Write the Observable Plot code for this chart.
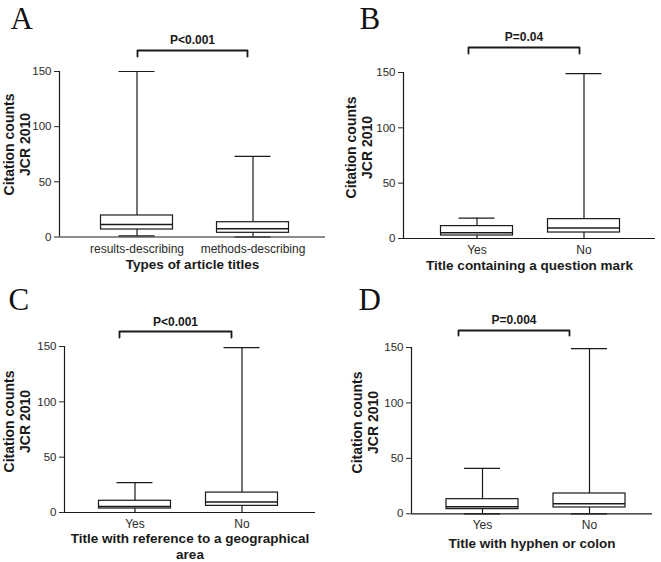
<!DOCTYPE html>
<html><head><meta charset="utf-8">
<script src="https://cdn.jsdelivr.net/npm/d3@7"></script>
<script src="https://cdn.jsdelivr.net/npm/@observablehq/plot@0.6"></script>
<style>
html,body{margin:0;padding:0;background:#fff}
#root{position:relative;width:661px;height:562px;overflow:hidden;background:#fff}
#root svg{position:absolute}
</style>
</head><body><div id="root"></div>
<script>
// ---------- data ----------
const letters = ["A", "B", "C", "D"];
const xTitles = [
  "Types of article titles",
  "Title containing a question mark",
  "Title with reference to a geographical\narea",
  "Title with hyphen or colon"
];
const yLabelLines = ["Citation counts", "JCR 2010"];
const yTicks = [0, 50, 100, 150];
const pValues = ["P<0.001", "P=0.04", "P<0.001", "P=0.004"];

const groupsA = ["results-describing", "methods-describing"];
const groupsB = ["Yes", "No"];
const groupsC = ["Yes", "No"];
const groupsD = ["Yes", "No"];

const minA = [1, 0],  q1A = [6.8, 3.8], medA = [11.3, 7.4], q3A = [19.5, 13.4], maxA = [150, 73];
const minB = [0, 0],  q1B = [2.7, 5.4], medB = [5.1, 9.4],  q3B = [11.2, 17.5], maxB = [18.4, 149];
const minC = [0, 0],  q1C = [3.6, 6.0], medC = [5.4, 9.6],  q3C = [10.6, 18.0], maxC = [27, 149];
const minD = [0, 0],  q1D = [4.2, 5.7], medD = [6.3, 9.0],  q3D = [13.2, 18.3], maxD = [41, 149];

const panelData = [
  {groups: groupsA, min: minA, q1: q1A, med: medA, q3: q3A, max: maxA},
  {groups: groupsB, min: minB, q1: q1B, med: medB, q3: q3B, max: maxB},
  {groups: groupsC, min: minC, q1: q1C, med: medC, q3: q3C, max: maxC},
  {groups: groupsD, min: minD, q1: q1D, med: medD, q3: q3D, max: maxD}
];

// ---------- layout (pixels) ----------
const layouts = [
  {px: 0,   py: 0,   w: 330, h: 280, left: 59, right: 325, c0: 136.5, c1: 252.5, top: 71, zero: 236.5,
   letter: [10, 28], ylab: [16, 144], bx: [137, 247], by: 50, tick: 6, py2: 40, titleDy: 20, titleLH: 1.25},
  {px: 330, py: 0,   w: 331, h: 280, left: 73, right: 325, c0: 146.5, c1: 253.5, top: 72, zero: 238,
   letter: [29, 28], ylab: [28.5, 147], bx: [138, 249], by: 47, tick: 6, py2: 37, titleDy: 20, titleLH: 1.25},
  {px: 0,   py: 280, w: 330, h: 282, left: 64, right: 315, c0: 134.5, c1: 241.5, top: 66, zero: 232,
   letter: [8, 29], ylab: [16.5, 141], bx: [119, 231], by: 51, tick: 6, py2: 42, titleDy: 19, titleLH: 1.18},
  {px: 330, py: 280, w: 331, h: 282, left: 81, right: 322, c0: 152, c1: 259, top: 67, zero: 233.3,
   letter: [28, 29], ylab: [34.5, 142], bx: [128, 239], by: 50, tick: 5, py2: 40, titleDy: 22, titleLH: 1.25}
];

const ink = "#1a1a1a";
const root = document.getElementById("root");

panelData.forEach((pd, p) => {
  const L = layouts[p];
  const unit = L.c1 - L.c0;
  const lo = -(L.c0 - L.left) / unit;
  const hi = 1 + (L.right - L.c1) / unit;
  const k = (L.zero - L.top) / 150;
  const pxX = (v) => lo + (v - L.left) / unit;
  const pxY = (v) => (L.zero - v) / k;
  const boxHalf = 36 / unit;
  const capHalf = 18 / unit;

  const rows = pd.groups.map((g, i) => ({
    i, g, min: pd.min[i], q1: pd.q1[i], med: pd.med[i], q3: pd.q3[i], max: pd.max[i]
  }));

  const bracket = [
    {x: pxX(L.bx[0]), y: pxY(L.by + L.tick)},
    {x: pxX(L.bx[0]), y: pxY(L.by)},
    {x: pxX(L.bx[1]), y: pxY(L.by)},
    {x: pxX(L.bx[1]), y: pxY(L.by + L.tick)}
  ];

  const svg = Plot.plot({
    width: L.w,
    height: L.h,
    marginLeft: L.left,
    marginRight: L.w - L.right,
    marginTop: L.top,
    marginBottom: L.h - L.zero,
    style: {fontFamily: "'Liberation Sans', Arial, sans-serif", fontSize: "11.5px", color: "#2a2a2a", background: "#fff", overflow: "visible"},
    x: {type: "linear", domain: [lo, hi], label: null},
    y: {domain: [0, 150], label: null},
    marks: [
      // axes
      Plot.axisY({ticks: yTicks, tickSize: 5, tickPadding: 3, label: null, fontSize: 11.5}),
      Plot.axisX({ticks: [0, 1], tickSize: 0, tickPadding: 7, label: null, fontSize: 12,
        tickFormat: (d) => pd.groups[Math.round(d)]}),
      Plot.ruleX([lo], {y1: 0, y2: 150, stroke: ink, strokeWidth: 1.2}),
      Plot.ruleY([0], {x1: lo, x2: hi, stroke: ink, strokeWidth: 1.2}),
      // whiskers
      Plot.ruleX(rows, {x: "i", y1: "min", y2: "max", stroke: ink, strokeWidth: 1.2}),
      Plot.ruleY(rows, {y: "max", x1: (d) => d.i - capHalf, x2: (d) => d.i + capHalf, stroke: ink, strokeWidth: 1.2}),
      Plot.ruleY(rows, {y: "min", x1: (d) => d.i - capHalf, x2: (d) => d.i + capHalf, stroke: ink, strokeWidth: 1.2}),
      // boxes
      Plot.rect(rows, {x1: (d) => d.i - boxHalf, x2: (d) => d.i + boxHalf, y1: "q1", y2: "q3",
        fill: "#fff", stroke: ink, strokeWidth: 1.2}),
      Plot.ruleY(rows, {y: "med", x1: (d) => d.i - boxHalf, x2: (d) => d.i + boxHalf, stroke: ink, strokeWidth: 1.5}),
      // significance bracket
      Plot.line(bracket, {x: "x", y: "y", stroke: ink, strokeWidth: 1.8}),
      Plot.text([pValues[p]], {x: (pxX(L.bx[0]) + pxX(L.bx[1])) / 2, y: pxY(L.py2), text: (d) => d,
        fontWeight: "bold", fontSize: 12, fill: ink, ariaLabel: "pvalue"}),
      // axis titles
      Plot.text([xTitles[p]], {frameAnchor: "bottom", dy: L.titleDy, text: (d) => d, lineAnchor: "top",
        lineHeight: L.titleLH, fontWeight: "bold", fontSize: 13.5, fill: ink}),
      Plot.text([yLabelLines.join("\n")], {frameAnchor: "top-left", dx: L.ylab[0] - L.left, dy: L.ylab[1] - L.top,
        text: (d) => d, rotate: -90, lineAnchor: "middle", textAnchor: "middle", lineHeight: 1.15,
        fontWeight: "bold", fontSize: 14, fill: ink}),
      // panel letter (baseline anchored)
      Plot.text([letters[p]], {frameAnchor: "top-left", dx: L.letter[0] - L.left, dy: L.letter[1] - L.top,
        text: (d) => d, textAnchor: "start", lineAnchor: "bottom",
        fontFamily: "'Liberation Serif', 'DejaVu Serif', serif", fontSize: 31, fill: "#111"})
    ]
  });
  svg.style.left = L.px + "px";
  svg.style.top = L.py + "px";
  // italic P in p-value labels
  d3.select(svg).selectAll('g[aria-label="pvalue"] text').each(function () {
    const t = this.textContent;
    const sel = d3.select(this);
    sel.text(null);
    sel.append("tspan").attr("font-style", "italic").text(t.slice(0, 1));
    sel.append("tspan").text(t.slice(1));
  });
  root.appendChild(svg);
});
</script>
</body></html>
